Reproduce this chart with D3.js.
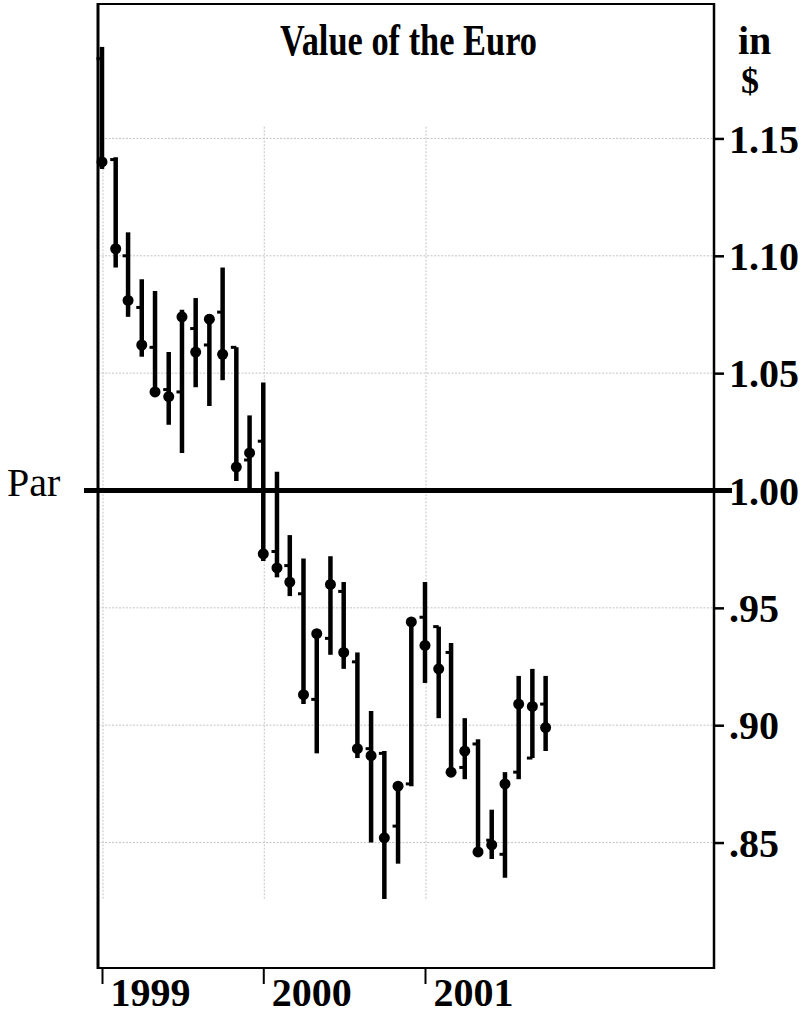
<!DOCTYPE html>
<html>
<head>
<meta charset="utf-8">
<script src="https://cdn.jsdelivr.net/npm/d3@7"></script>
<style>
  html, body { margin: 0; padding: 0; background: #fff; }
  svg { display: block; }
  text { font-family: "Liberation Serif", "Times New Roman", serif; fill: #000; }
</style>
</head>
<body>
<svg id="chart" width="809" height="1016"></svg>
<script>
// ---- data (monthly, Jan 1999 – Oct 2001) ----
const months = ["1999-01","1999-02","1999-03","1999-04","1999-05","1999-06","1999-07","1999-08","1999-09","1999-10","1999-11","1999-12",
                "2000-01","2000-02","2000-03","2000-04","2000-05","2000-06","2000-07","2000-08","2000-09","2000-10","2000-11","2000-12",
                "2001-01","2001-02","2001-03","2001-04","2001-05","2001-06","2001-07","2001-08","2001-09","2001-10"];
const highs  = [1.189,1.142,1.110,1.090,1.085,1.059,1.077,1.082,1.075,1.095,1.061,1.032,
                1.046,1.008,0.981,0.971,0.940,0.972,0.961,0.931,0.906,0.889,0.875,0.945,
                0.961,0.942,0.935,0.903,0.894,0.864,0.880,0.921,0.924,0.921];
const lows   = [1.137,1.095,1.074,1.057,1.041,1.028,1.016,1.044,1.036,1.047,1.004,1.001,
                0.970,0.963,0.955,0.909,0.888,0.930,0.924,0.886,0.850,0.826,0.841,0.874,
                0.918,0.903,0.879,0.877,0.845,0.843,0.835,0.877,0.886,0.889];
const opens  = [1.184,1.141,1.100,1.078,1.061,1.043,1.042,1.069,1.062,1.076,1.061,1.013,
                1.021,0.974,0.968,0.956,0.911,0.937,0.957,0.927,0.890,0.888,0.857,0.875,
                0.946,0.942,0.931,0.882,0.892,0.851,0.845,0.880,0.886,0.909];
const closes = [1.140,1.103,1.081,1.062,1.042,1.040,1.074,1.059,1.073,1.058,1.010,1.016,
                0.973,0.967,0.961,0.913,0.939,0.960,0.931,0.890,0.887,0.852,0.874,0.944,
                0.934,0.924,0.880,0.889,0.846,0.849,0.875,0.909,0.908,0.899];
const yTicks = [1.15, 1.10, 1.05, 1.00, 0.95, 0.90, 0.85];
const yTickLabels = ["1.15","1.10","1.05","1.00",".95",".90",".85"];
const years = ["1999","2000","2001"];
const title = "Value of the Euro";
const unitLines = ["in", "$"];
const parLabel = "Par";
const parValue = 1.00;

// ---- layout ----
const frame = { left: 98, right: 714, top: 4, bottom: 968 };
const parse = d3.timeParse("%Y-%m");
const yearDates = years.map(y => parse(y + "-01"));

const x = d3.scaleTime()
  .domain([parse("1999-01"), parse("2001-01")])
  .range([102, 425]);
const y = d3.scaleLinear()
  .domain([1 - (frame.bottom - 490.5) / 2347, 1 + (490.5 - frame.top) / 2347])
  .range([frame.bottom, frame.top]);

const svg = d3.select("#chart");

// gridlines
const grid = svg.append("g").attr("stroke", "#c4c4c4").attr("stroke-width", 1).attr("stroke-dasharray", "2,1.5");
grid.selectAll("line.h").data(yTicks.filter(t => t !== parValue)).join("line")
  .attr("x1", frame.left).attr("x2", frame.right)
  .attr("y1", d => y(d)).attr("y2", d => y(d));
grid.selectAll("line.v").data(yearDates).join("line")
  .attr("x1", d => x(d) + 1).attr("x2", d => x(d) + 1)
  .attr("y1", y(1.155)).attr("y2", y(0.826));

// frame
svg.append("line").attr("x1", frame.left).attr("x2", frame.right).attr("y1", frame.top).attr("y2", frame.top)
  .attr("stroke", "#000").attr("stroke-width", 2);
svg.append("line").attr("x1", frame.left).attr("x2", frame.left).attr("y1", frame.top - 1).attr("y2", frame.bottom + 1)
  .attr("stroke", "#000").attr("stroke-width", 3);

// right axis
const yAxis = d3.axisRight(y).tickValues(yTicks).tickSize(10).tickPadding(5)
  .tickFormat((d, i) => yTickLabels[i]);
const ya = svg.append("g").attr("transform", `translate(${frame.right},0)`).call(yAxis);
ya.select(".domain").attr("stroke-width", 2.5).attr("d", `M0,${frame.top - 1}V${frame.bottom + 1}`);
ya.selectAll(".tick line").attr("stroke-width", 2.5);
ya.selectAll(".tick text").attr("font-family", "Liberation Serif").attr("font-weight", "bold")
  .attr("font-size", 40).attr("dy", "0.34em");

// bottom axis
const xAxis = d3.axisBottom(x).tickValues(yearDates).tickSize(16).tickFormat("");
const xa = svg.append("g").attr("transform", `translate(0,${frame.bottom})`).call(xAxis);
xa.select(".domain").attr("stroke-width", 2).attr("d", `M${frame.left},0H${frame.right}`);
xa.selectAll(".tick line").attr("stroke-width", 2);
xa.selectAll(".tick").append("text")
  .attr("x", 8).attr("y", 38)
  .attr("text-anchor", "start")
  .attr("font-family", "Liberation Serif").attr("font-weight", "bold").attr("font-size", 40)
  .attr("fill", "#000")
  .text((d, i) => years[i]);

// par line
svg.append("line").attr("x1", 84).attr("x2", 732).attr("y1", y(parValue)).attr("y2", y(parValue))
  .attr("stroke", "#000").attr("stroke-width", 5);
svg.append("text").attr("x", 7).attr("y", y(parValue) + 5)
  .attr("font-size", 40).text(parLabel);

// bars
const data = months.map((m, i) => ({ date: parse(m), h: highs[i], l: lows[i], o: opens[i], c: closes[i] }));
const bars = svg.append("g");
bars.selectAll("line.hl").data(data).join("line")
  .attr("x1", d => x(d.date)).attr("x2", d => x(d.date))
  .attr("y1", d => y(d.h)).attr("y2", d => y(d.l))
  .attr("stroke", "#000").attr("stroke-width", 4.5);
bars.selectAll("line.open").data(data).join("line")
  .attr("x1", d => x(d.date) - 5.5).attr("x2", d => x(d.date))
  .attr("y1", d => y(d.o)).attr("y2", d => y(d.o))
  .attr("stroke", "#000").attr("stroke-width", 3);
bars.selectAll("circle.close").data(data).join("circle")
  .attr("cx", d => x(d.date)).attr("cy", d => y(d.c)).attr("r", 5.5)
  .attr("fill", "#000");

// title & unit
svg.append("text").attr("x", 280).attr("y", 55)
  .attr("font-weight", "bold").attr("font-size", 44)
  .attr("textLength", 257).attr("lengthAdjust", "spacingAndGlyphs")
  .text(title);
svg.append("text").attr("x", 738).attr("y", 54).attr("font-weight", "bold").attr("font-size", 40).text(unitLines[0]);
svg.append("text").attr("x", 741).attr("y", 93).attr("font-weight", "bold").attr("font-size", 36).text(unitLines[1]);
</script>
</body>
</html>
